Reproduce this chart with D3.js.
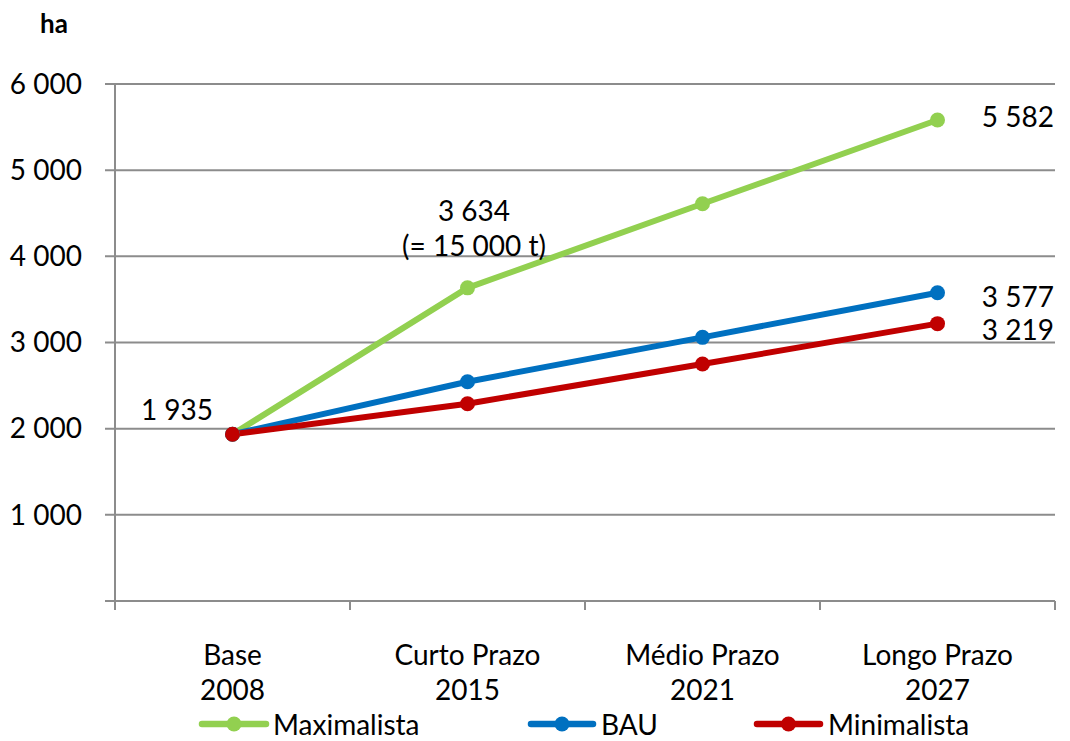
<!DOCTYPE html>
<html><head><meta charset="utf-8">
<script src="https://cdn.jsdelivr.net/npm/d3@7"></script>
<style>body{margin:0;background:#fff}svg{font-family:Lato,"Liberation Sans",sans-serif}</style>
</head><body><svg id="c" width="1070" height="741"></svg>
<script>
const categories = [["Base","2008"],["Curto Prazo","2015"],["Médio Prazo","2021"],["Longo Prazo","2027"]];
const maximalista = [1935, 3634, 4610, 5582];
const bau = [1935, 2545, 3060, 3577];
const minimalista = [1935, 2290, 2750, 3219];
const yTicks = [1000, 2000, 3000, 4000, 5000, 6000];
const seriesNames = ["Maximalista", "BAU", "Minimalista"];
const colors = ["#92D050", "#0070C0", "#C00000"];

const svg = d3.select("#c");
const x = d3.scaleBand().domain(d3.range(categories.length)).range([115, 1055]);
const y = d3.scaleLinear().domain([0, 6000]).range([601, 84]);
const grid = "#8c8c8c";
const FS = 28;

svg.append("g").selectAll("line").data(yTicks).join("line")
  .attr("x1", 105).attr("x2", 1055).attr("y1", d => y(d)).attr("y2", d => y(d))
  .attr("stroke", grid).attr("stroke-width", 2);
svg.append("line").attr("x1",115).attr("x2",115).attr("y1",y(6000)).attr("y2",610).attr("stroke",grid).attr("stroke-width",2);
svg.append("line").attr("x1",105).attr("x2",1055).attr("y1",y(0)).attr("y2",y(0)).attr("stroke",grid).attr("stroke-width",2);
svg.append("g").selectAll("line").data(d3.range(categories.length+1)).join("line")
  .attr("x1", d => 115 + d*x.step()).attr("x2", d => 115 + d*x.step())
  .attr("y1", y(0)).attr("y2", 610).attr("stroke", grid).attr("stroke-width", 2);

const fmt = v => d3.format(",")(v).replace(",", " ");
svg.append("g").selectAll("text").data(yTicks).join("text")
  .attr("x", 82).attr("y", d => y(d)).attr("dy","0.35em").attr("text-anchor","end")
  .attr("font-size", FS).attr("fill","#000").text(d => fmt(d));
svg.append("text").attr("x",54).attr("y",33).attr("text-anchor","middle").attr("font-weight","bold").attr("font-size",26).text("ha");

const xl = svg.append("g").selectAll("text").data(categories).join("text")
  .attr("x", (d,i) => x(i) + x.bandwidth()/2).attr("text-anchor","middle").attr("font-size",FS);
xl.append("tspan").attr("y", 665).text(d => d[0]);
xl.append("tspan").attr("x", (d,i) => x(i) + x.bandwidth()/2).attr("y", 700).text(d => d[1]);

const series = [maximalista, bau, minimalista];
const line = d3.line().x((d,i) => x(i) + x.bandwidth()/2).y(d => y(d));
series.forEach((s, k) => {
  svg.append("path").datum(s).attr("d", line).attr("fill","none")
    .attr("stroke", colors[k]).attr("stroke-width", 6).attr("stroke-linejoin","round");
});
series.forEach((s, k) => {
  svg.append("g").selectAll("circle").data(s).join("circle")
    .attr("cx", (d,i) => x(i) + x.bandwidth()/2).attr("cy", d => y(d)).attr("r", 7.5).attr("fill", colors[k]);
});

const lab = (t, xx, yy, anchor) => svg.append("text").attr("x", xx).attr("y", yy).attr("dy","0.35em")
  .attr("text-anchor", anchor).attr("font-size", FS).text(t);
lab(fmt(maximalista[3]), 1054, 117, "end");
lab(fmt(bau[3]), 1054, 297, "end");
lab(fmt(minimalista[3]), 1054, 330, "end");
lab(fmt(maximalista[1]), 474, 211, "middle");
lab("(= 15 000 t)", 474, 246, "middle");
lab(fmt(minimalista[0]), 177, 410, "middle");

const legLine = [[202, 266], [531, 593], [757, 820]];
const legText = [273, 601, 828];
seriesNames.forEach((n, k) => {
  const g = svg.append("g");
  g.append("line").attr("x1", legLine[k][0]).attr("x2", legLine[k][1]).attr("y1", 724).attr("y2", 724)
    .attr("stroke", colors[k]).attr("stroke-width", 6.5).attr("stroke-linecap","round");
  g.append("circle").attr("cx", (legLine[k][0]+legLine[k][1])/2).attr("cy", 724).attr("r", 7.5).attr("fill", colors[k]);
  g.append("text").attr("x", legText[k]).attr("y", 725).attr("dy","0.35em").attr("font-size", FS).text(n);
});
</script></body></html>
